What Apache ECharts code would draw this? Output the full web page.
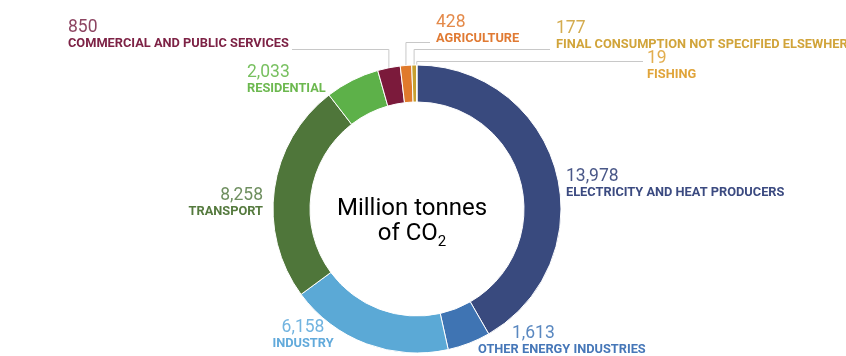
<!DOCTYPE html>
<html>
<head>
<meta charset="utf-8">
<script src="https://cdn.jsdelivr.net/npm/echarts@6/dist/echarts.min.js"></script>
<style>
html,body{margin:0;padding:0;background:#fff;}
#chart{width:846px;height:356px;}
</style>
</head>
<body>
<div id="chart"></div>
<script>
// Data
const categories = [
  'ELECTRICITY AND HEAT PRODUCERS',
  'OTHER ENERGY INDUSTRIES',
  'INDUSTRY',
  'TRANSPORT',
  'RESIDENTIAL',
  'COMMERCIAL AND PUBLIC SERVICES',
  'AGRICULTURE',
  'FINAL CONSUMPTION NOT SPECIFIED ELSEWHERE',
  'FISHING'
];
const values = [13978, 1613, 6158, 8258, 2033, 850, 428, 177, 19];

// Styles
const sliceColors = ['#394a7e', '#3f74b3', '#5ba9d6', '#4f763a', '#5db149', '#7b1a3b', '#e07a2c', '#c7a030', '#e0a840'];
const textColors  = ['#3b4a80', '#4677b8', '#62aadb', '#557a3e', '#6cb84f', '#7d2245', '#e07a33', '#d1a43a', '#e0a43a'];
const valueColors = ['#4a5888', '#5a88c0', '#72b4e0', '#6f8f60', '#78c060', '#8d4562', '#e48a4a', '#d4ac50', '#e2ae50'];

// Label layout: [x, y, align, lineY, lineEndX] (lineY null => no leader line)
const labelLayouts = [
  [566, 168, 'left', null, null],
  [478, 325, 'left', null, null],
  [303, 319, 'center', null, null],
  [263, 187, 'right', null, null],
  [247, 64, 'left', null, null],
  [68, 19, 'left', 49.5, 292],
  [436, 14, 'left', 42.5, 430],
  [556, 20, 'left', 49.5, 550],
  [647, 50, 'left', 61.5, 643]
];

const fmt = v => v.toLocaleString('en-US');

const data = categories.map((c, i) => {
  const rich = {
    v: { fontSize: 17.5, fontFamily: 'Roboto', color: valueColors[i], lineHeight: 18, padding: i === 1 ? [0, 0, 0, 34] : 0 },
    n: { fontSize: 12.8, fontFamily: 'Roboto', fontWeight: 'bold', color: textColors[i], lineHeight: 14 }
  };
  return {
    name: c,
    value: values[i],
    itemStyle: { color: sliceColors[i] },
    label: { rich: rich, align: labelLayouts[i][2] },
    labelLine: { show: labelLayouts[i][3] !== null }
  };
});

const chart = echarts.init(document.getElementById('chart'), null, { renderer: 'canvas' });
chart.setOption({
  animation: false,
  backgroundColor: '#ffffff',
  series: [{
    type: 'pie',
    center: [417, 209],
    radius: [107, 144],
    startAngle: 90,
    clockwise: true,
    avoidLabelOverlap: false,
    itemStyle: { borderColor: '#ffffff', borderWidth: 1 },
    label: {
      show: true,
      position: 'outside',
      formatter: p => '{v|' + fmt(p.value) + '}\n{n|' + p.name + '}'
    },
    labelLine: {
      show: true,
      length: 5,
      length2: 5,
      lineStyle: { color: '#c8c8c8', width: 1 }
    },
    labelLayout: function (params) {
      const L = labelLayouts[params.dataIndex];
      const out = { x: L[0], y: L[1], align: L[2], verticalAlign: 'top' };
      if (L[3] !== null && params.labelLinePoints) {
        const p0 = params.labelLinePoints[0];
        out.labelLinePoints = [[p0[0], p0[1]], [p0[0], L[3]], [L[4], L[3]]];
      }
      return out;
    },
    data: data
  }],
  graphic: [{
    type: 'text',
    x: 412,
    y: 221,
    style: {
      text: '{a|Million tonnes}\n{a|of CO}{s|2}',
      align: 'center',
      verticalAlign: 'middle',
      rich: {
        a: { fontSize: 24, fontFamily: 'Roboto', color: '#1a1a1a', lineHeight: 25 },
        s: { fontSize: 15, fontFamily: 'Roboto', color: '#1a1a1a', lineHeight: 25, padding: [17, 0, 0, 0] }
      }
    }
  }]
});
</script>
</body>
</html>
